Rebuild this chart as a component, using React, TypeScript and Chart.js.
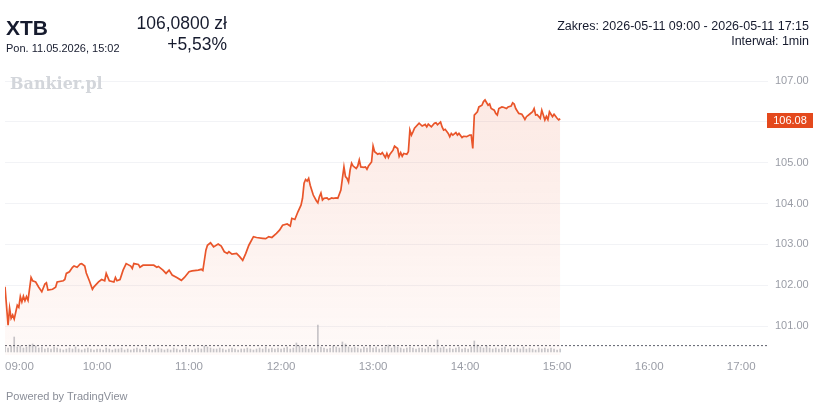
import React, { useEffect, useRef } from "react";
import { Chart, registerables } from "chart.js";

Chart.register(...registerables);

// minutes after 09:00 for each price reading
const priceTimes = [
  0, 2, 3, 4, 5, 6, 8, 9, 10, 11, 12, 13, 14, 15, 17, 18, 20, 22, 24, 26,
  27, 28, 31, 33, 34, 38, 39, 40, 42, 44, 45, 47, 49, 50, 52, 53, 55, 57, 58, 61,
  63, 65, 66, 68, 71, 72, 73, 75, 77, 79, 82, 83, 84, 87, 88, 90, 97, 99, 100, 103,
  105, 107, 109, 112, 115, 117, 120, 122, 126, 128, 129, 131, 132, 134, 136, 139, 141, 143, 145, 146,
  148, 151, 153, 155, 157, 159, 162, 164, 168, 170, 172, 174, 177, 179, 181, 184, 186, 187, 189, 191,
  193, 194, 195, 196, 197, 198, 199, 201, 203, 204, 205, 206, 207, 208, 210, 211, 213, 214, 216, 217,
  219, 220, 221, 222, 223, 224, 225, 226, 227, 229, 230, 231, 232, 234, 235, 236, 237, 239, 240, 241,
  243, 244, 245, 246, 248, 249, 250, 251, 253, 254, 256, 257, 258, 259, 260, 262, 263, 264, 265, 266,
  267, 270, 272, 274, 275, 276, 278, 280, 281, 282, 284, 285, 286, 287, 289, 290, 291, 292, 294, 295,
  296, 298, 299, 301, 303, 304, 305, 306, 308, 309, 311, 312, 313, 315, 316, 317, 319, 320, 321, 322,
  324, 325, 327, 328, 330, 331, 332, 333, 335, 337, 338, 339, 340, 342, 344, 345, 346, 347, 349, 350,
  351, 352, 353, 354, 355, 356, 357, 358, 360, 361, 362,
];

// XTB price (zł)
const prices = [
  101.96, 101.02, 101.44, 101.19, 101.27, 101.17, 101.51, 101.46, 101.72, 101.59, 101.73, 101.62, 101.72, 101.63, 102.19, 102.11, 102.08, 101.95, 101.84, 102.03,
  102.06, 101.88, 101.90, 101.95, 102.08, 102.11, 102.14, 102.29, 102.33, 102.44, 102.47, 102.44, 102.52, 102.53, 102.47, 102.30, 102.11, 101.90, 101.96, 102.08,
  102.14, 102.11, 102.29, 102.11, 102.08, 102.19, 102.11, 102.14, 102.37, 102.53, 102.47, 102.41, 102.53, 102.51, 102.44, 102.49, 102.49, 102.44, 102.46, 102.37,
  102.29, 102.37, 102.25, 102.19, 102.12, 102.19, 102.33, 102.35, 102.37, 102.39, 102.36, 102.86, 102.98, 103.04, 102.94, 103.01, 102.96, 102.82, 102.78, 102.82,
  102.76, 102.78, 102.70, 102.61, 102.78, 102.98, 103.19, 103.17, 103.15, 103.14, 103.19, 103.17, 103.27, 103.35, 103.47, 103.50, 103.45, 103.64, 103.61, 103.80,
  103.96, 104.13, 104.50, 104.59, 104.55, 104.62, 104.45, 104.21, 104.07, 104.02, 104.17, 104.26, 104.09, 104.13, 104.14, 104.10, 104.14, 104.13, 104.14, 104.13,
  104.33, 104.62, 104.90, 104.66, 104.62, 104.53, 104.82, 104.99, 104.92, 104.86, 104.92, 105.07, 104.90, 104.89, 104.90, 104.84, 104.92, 105.02, 105.41, 105.27,
  105.21, 105.23, 105.21, 105.25, 105.13, 105.23, 105.13, 105.21, 105.31, 105.41, 105.35, 105.16, 105.25, 105.16, 105.23, 105.21, 105.27, 105.80, 105.68, 105.76,
  105.85, 105.97, 105.90, 105.94, 105.88, 105.95, 105.88, 105.97, 105.98, 105.93, 106.00, 105.88, 105.80, 105.82, 105.72, 105.64, 105.72, 105.68, 105.74, 105.68,
  105.72, 105.62, 105.65, 105.64, 105.68, 105.68, 105.35, 106.17, 106.25, 106.37, 106.41, 106.50, 106.54, 106.41, 106.44, 106.33, 106.29, 106.21, 106.17, 106.33,
  106.37, 106.36, 106.33, 106.37, 106.39, 106.47, 106.44, 106.33, 106.21, 106.19, 106.13, 106.06, 106.13, 106.19, 106.25, 106.33, 106.17, 106.18, 106.09, 106.29,
  106.17, 106.05, 106.14, 106.06, 106.25, 106.19, 106.13, 106.19, 106.09, 106.05, 106.08,
];

// volume (thousand shares), one reading every 2 minutes from 09:00
const volumeK = [
  5, 4, 6, 15, 5, 6, 4, 5, 7, 8,
  6, 4, 5, 3, 4, 3, 5, 4, 3, 2,
  3, 4, 3, 5, 3, 2, 3, 4, 3, 2,
  3, 3, 2, 4, 3, 2, 3, 3, 4, 2,
  3, 2, 3, 4, 3, 2, 5, 3, 2, 3,
  4, 3, 2, 3, 2, 4, 3, 2, 3, 5,
  3, 2, 3, 4, 3, 6, 5, 4, 3, 3,
  4, 3, 2, 3, 4, 3, 2, 3, 3, 4,
  3, 2, 3, 4, 3, 5, 3, 4, 3, 4,
  3, 4, 5, 3, 4, 9, 6, 4, 5, 3,
  4, 3, 27, 5, 4, 3, 4, 6, 5, 4,
  10, 8, 5, 4, 5, 4, 3, 5, 4, 6,
  4, 5, 3, 4, 5, 7, 4, 6, 5, 4,
  3, 4, 5, 4, 3, 4, 4, 3, 5, 4,
  3, 12, 4, 5, 3, 4, 3, 4, 5, 3,
  4, 3, 5, 11, 7, 5, 4, 6, 4, 3,
  4, 3, 4, 5, 3, 4, 3, 4, 3, 5,
  3, 4, 3, 2, 4, 3, 4, 3, 4, 3,
  2, 3,
];

const prevClose = 100.52;
const lastPrice = 106.08;
const hourTicks = [0, 60, 120, 180, 240, 300, 360, 420, 480];
const hourLabels = ["09:00", "10:00", "11:00", "12:00", "13:00", "14:00", "15:00", "16:00", "17:00"];
const X_MAX = 497.5;
const Y_MIN = 100.29;
const Y_MAX = 107.47;

const FONT = '"Liberation Sans", Arial, sans-serif';
const LINE_COLOR = "#e9552a";
const BADGE_COLOR = "#e4491d";
const TEXT_DARK = "#161b2e";

export default function App() {
  const ref = useRef<HTMLCanvasElement | null>(null);

  useEffect(() => {
    const canvas = ref.current;
    if (!canvas) return;

    const badgePlugin = {
      id: "lastPriceBadge",
      afterDraw(chart: any) {
        const y = Math.round(chart.scales.y.getPixelForValue(lastPrice)) + 1;
        const left = chart.chartArea.right - 1;
        const c = chart.ctx;
        c.save();
        c.fillStyle = BADGE_COLOR;
        c.fillRect(left, y - 7, 46, 15);
        c.fillStyle = "#ffffff";
        c.font = `11px ${FONT}`;
        c.textAlign = "center";
        c.textBaseline = "middle";
        c.fillText(lastPrice.toFixed(2), left + 23, y + 1);
        c.restore();
      },
    };

    const chart = new Chart(canvas, {
      type: "line",
      data: {
        datasets: [
          {
            type: "line",
            data: priceTimes.map((t, i) => ({ x: t, y: prices[i] })),
            borderColor: LINE_COLOR,
            borderWidth: 1.7,
            pointRadius: 0,
            tension: 0,
            fill: "start",
            backgroundColor: (ctx: any) => {
              const { chart: ch } = ctx;
              const area = ch.chartArea;
              if (!area) return "rgba(233,85,42,0.08)";
              const g = ch.ctx.createLinearGradient(0, area.top, 0, area.bottom);
              g.addColorStop(0, "rgba(233,85,42,0.14)");
              g.addColorStop(1, "rgba(233,85,42,0.03)");
              return g;
            },
            yAxisID: "y",
          },
          {
            type: "line",
            data: [
              { x: 0, y: prevClose },
              { x: X_MAX, y: prevClose },
            ],
            borderColor: "#5d606b",
            borderWidth: 1,
            borderDash: [2, 2],
            pointRadius: 0,
            fill: false,
            yAxisID: "y",
          },
          {
            type: "bar",
            data: volumeK.map((v, i) => ({ x: i * 2, y: v })),
            backgroundColor: "rgba(140,145,155,0.5)",
            barThickness: 1,
            yAxisID: "yv",
          } as any,
        ],
      },
      options: {
        responsive: false,
        animation: false,
        events: [],
        layout: { padding: { top: 62, left: 5, right: 0, bottom: 0 } },
        plugins: { legend: { display: false }, tooltip: { enabled: false } },
        scales: {
          x: {
            type: "linear",
            min: 0,
            max: X_MAX,
            offset: false,
            grid: { display: false, drawTicks: false, offset: false },
            border: { display: false },
            afterBuildTicks: (scale: any) => {
              scale.ticks = [...hourTicks, X_MAX].map((v) => ({ value: v }));
            },
            afterFit: (scale: any) => {
              scale.height = 48;
            },
            ticks: {
              autoSkip: false,
              maxRotation: 0,
              align: "inner",
              padding: 5,
              color: "#9a9da6",
              font: { family: FONT, size: 11.5 },
              callback: (_v: any, i: number) => hourLabels[i] ?? "",
            },
          },
          y: {
            type: "linear",
            position: "right",
            min: Y_MIN,
            max: Y_MAX,
            grid: { color: "#f2f3f6", drawTicks: false },
            border: { display: false },
            afterFit: (scale: any) => {
              scale.width = 47;
            },
            ticks: {
              stepSize: 1,
              includeBounds: false,
              padding: 7,
              color: "#9a9da6",
              font: { family: FONT, size: 11 },
              callback: (v: any) => Number(v).toFixed(2),
            },
          },
          yv: {
            type: "linear",
            display: false,
            min: -3,
            max: 290,
          },
        },
      } as any,
      plugins: [badgePlugin],
    });

    return () => chart.destroy();
  }, []);

  const abs = (extra: React.CSSProperties): React.CSSProperties => ({
    position: "absolute",
    whiteSpace: "nowrap",
    fontFamily: FONT,
    color: TEXT_DARK,
    margin: 0,
    ...extra,
  });

  return (
    <div
      style={{
        position: "fixed",
        left: 0,
        top: 0,
        width: 815,
        height: 403,
        background: "#ffffff",
        overflow: "hidden",
      }}
    >
      <canvas ref={ref} width={815} height={403} style={{ position: "absolute", left: 0, top: 0, width: 815, height: 403 }} />
      <div style={abs({ left: 6, top: 17, fontSize: 21, lineHeight: "21px", fontWeight: 700 })}>XTB</div>
      <div style={abs({ left: 6, top: 43, fontSize: 11, lineHeight: "11px" })}>Pon. 11.05.2026, 15:02</div>
      <div style={abs({ right: 815 - 227, top: 15, fontSize: 17.5, lineHeight: "17.5px", textAlign: "right" })}>106,0800 zł</div>
      <div style={abs({ right: 815 - 227, top: 36, fontSize: 17.5, lineHeight: "17.5px", textAlign: "right" })}>+5,53%</div>
      <div style={abs({ right: 815 - 809, top: 20, fontSize: 12.5, lineHeight: "12.5px", textAlign: "right" })}>
        Zakres: 2026-05-11 09:00 - 2026-05-11 17:15
      </div>
      <div style={abs({ right: 815 - 809, top: 35, fontSize: 12.5, lineHeight: "12.5px", textAlign: "right" })}>Interwał: 1min</div>
      <div
        style={abs({
          left: 10,
          top: 76,
          fontSize: 16,
          lineHeight: "16px",
          fontWeight: 700,
          fontFamily: '"DejaVu Serif", "Liberation Serif", serif',
          color: "#d3d6db",
        })}
      >
        Bankier.pl
      </div>
      <div style={abs({ left: 6, top: 391, fontSize: 11, lineHeight: "11px", color: "#8a8e98" })}>Powered by TradingView</div>
    </div>
  );
}
